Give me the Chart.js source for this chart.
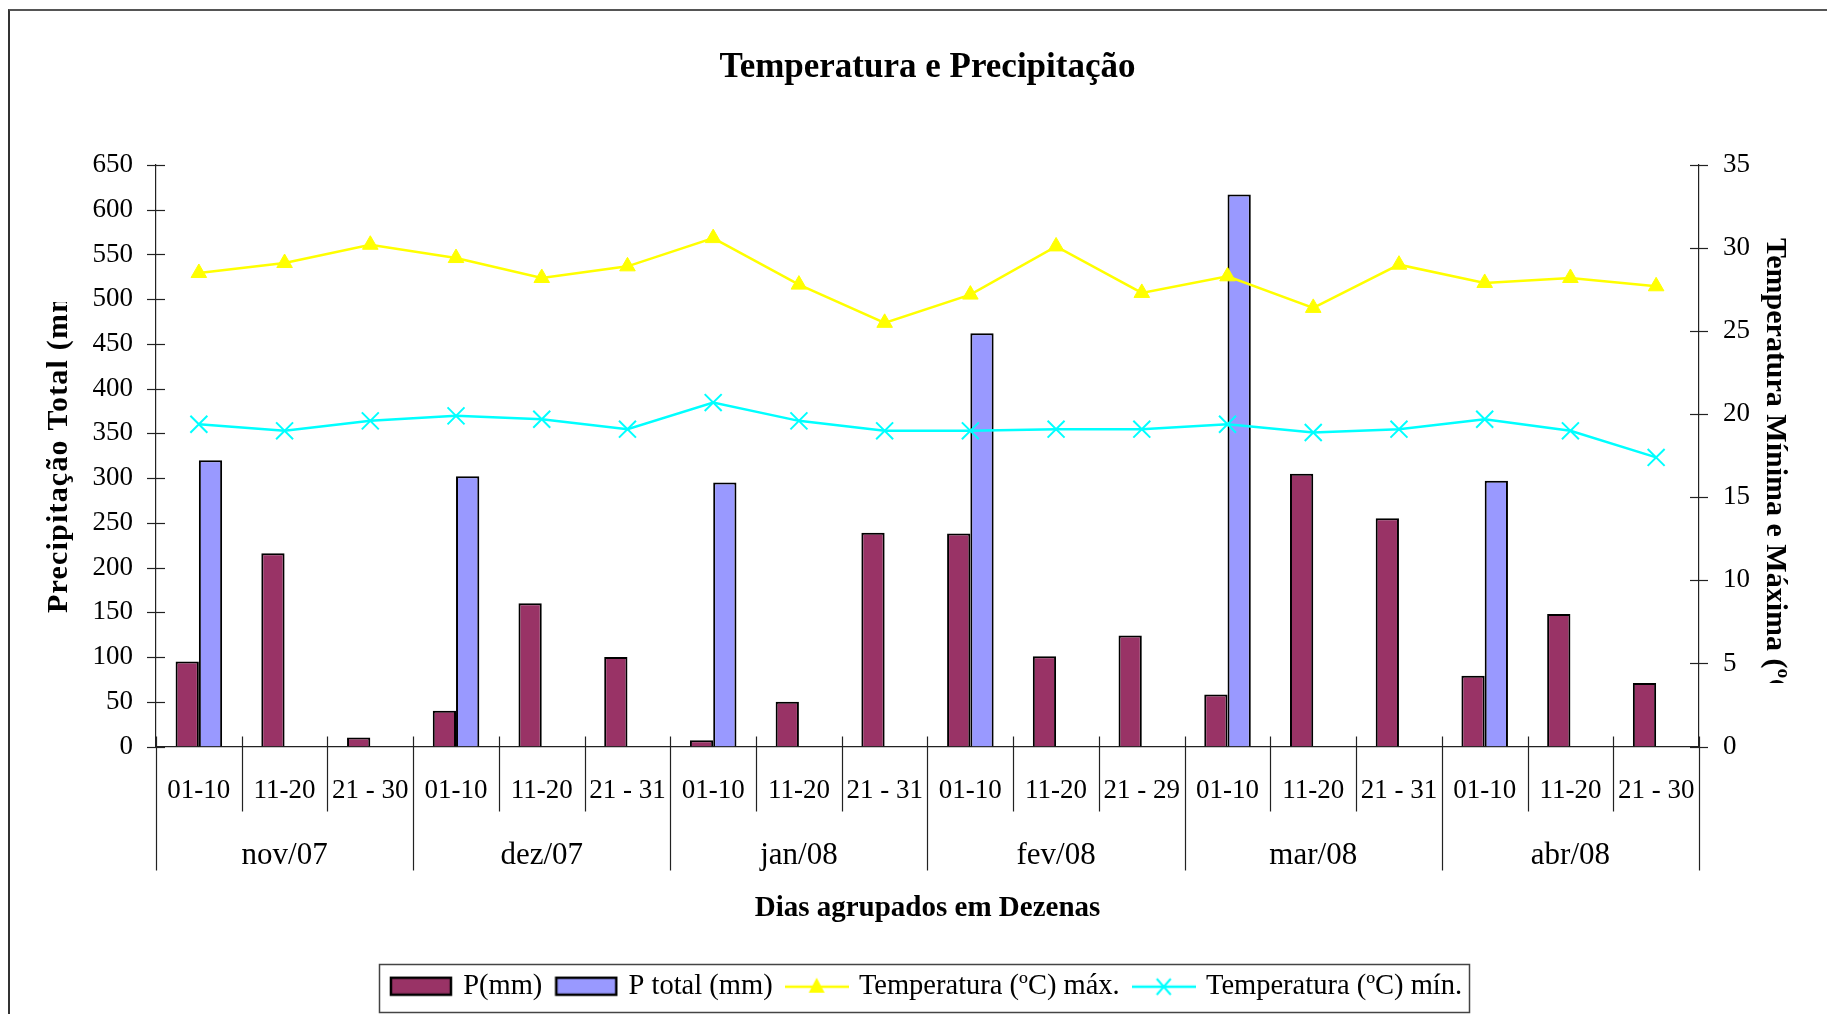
<!DOCTYPE html>
<html>
<head>
<meta charset="utf-8">
<script src="https://cdn.jsdelivr.net/npm/chart.js@4.4.1/dist/chart.umd.min.js"></script>
<style>
  html, body { margin: 0; padding: 0; background: #fff; }
  #wrap { position: relative; width: 1827px; height: 1014px; overflow: hidden; }
  #frame { position: absolute; left: 8px; top: 9px; width: 2000px; height: 1200px; border-left: 2px solid #333; border-top: 2px solid #555; }
  canvas { position: absolute; left: 0; top: 0; }
</style>
</head>
<body>
<div id="wrap">
  <div id="frame"></div>
  <canvas id="chart" width="1827" height="1014"></canvas>
</div>
<script>
// data
const dezenas = ["01-10", "11-20", "21 - 30", "01-10", "11-20", "21 - 31", "01-10", "11-20", "21 - 31",
  "01-10", "11-20", "21 - 29", "01-10", "11-20", "21 - 31", "01-10", "11-20", "21 - 30"]
const meses = ["nov/07", "dez/07", "jan/08", "fev/08", "mar/08", "abr/08"]
const precip = [95, 216, 10, 40, 160, 100, 7, 50, 239, 238, 101, 124, 58, 305, 255, 79, 148, 71]
const precipTotal = [320, null, null, 302, null, null, 295, null, null, 462, null, null, 617, null, null, 297, null, null]
const tempMax = [28.5, 29.1, 30.2, 29.4, 28.2, 28.9, 30.6, 27.8, 25.5, 27.2, 30.1, 27.3, 28.3, 26.4, 29.0, 27.9, 28.2, 27.7]
const tempMin = [19.4, 19.0, 19.6, 19.9, 19.7, 19.1, 20.7, 19.6, 19.0, 19.0, 19.1, 19.1, 19.4, 18.9, 19.1, 19.7, 19.0, 17.4]
const precipTicks = { min: 0, max: 650, step: 50 }
const tempTicks = { min: 0, max: 35, step: 5 }

const serif = "'Liberation Serif', 'Times New Roman', serif"
const fontSize = 27

// legend swatches (drawn a bit wider than the reserved box)
function barSwatch(color) {
  const c = document.createElement("canvas")
  c.width = 64
  c.height = 22
  const g = c.getContext("2d")
  g.fillStyle = color
  g.fillRect(2, 2, 60, 17)
  g.strokeStyle = "#000"
  g.lineWidth = 2.5
  g.strokeRect(2, 2, 60, 17)
  return c
}
function lineSwatch(color, marker) {
  const c = document.createElement("canvas")
  c.width = 64
  c.height = 26
  const g = c.getContext("2d")
  g.strokeStyle = color
  g.fillStyle = color
  g.lineWidth = 2.5
  g.beginPath()
  g.moveTo(0, 13)
  g.lineTo(64, 13)
  g.stroke()
  if (marker === "triangle") {
    g.beginPath()
    g.moveTo(32, 4)
    g.lineTo(40, 19)
    g.lineTo(24, 19)
    g.closePath()
    g.fill()
  } else {
    g.lineWidth = 2
    g.beginPath()
    g.moveTo(25, 5); g.lineTo(39, 21)
    g.moveTo(39, 5); g.lineTo(25, 21)
    g.stroke()
  }
  return c
}
const swatches = [
  barSwatch("#993366"),
  barSwatch("#9999FF"),
  lineSwatch("#FFFF00", "triangle"),
  lineSwatch("#00FFFF", "cross"),
]

// axis decorations: crossing ticks, group separators, month labels, clipped axis titles, legend box
const decor = {
  id: "decor",
  afterDraw(chart) {
    const ctx = chart.ctx
    const area = chart.chartArea
    const x = chart.scales.x
    const y = chart.scales.y
    const y1 = chart.scales.y1
    ctx.save()
    ctx.strokeStyle = "#222"
    ctx.lineWidth = 1.2

    // y ticks, crossing the axis lines
    y.ticks.forEach((t) => {
      const py = Math.round(y.getPixelForValue(t.value)) + 0.5
      ctx.beginPath()
      ctx.moveTo(area.left - 9, py)
      ctx.lineTo(area.left + 9, py)
      ctx.stroke()
    })
    y1.ticks.forEach((t) => {
      const py = Math.round(y1.getPixelForValue(t.value)) + 0.5
      ctx.beginPath()
      ctx.moveTo(area.right - 9, py)
      ctx.lineTo(area.right + 9, py)
      ctx.stroke()
    })

    // separators between dezenas and months
    const half = (x.getPixelForValue(1) - x.getPixelForValue(0)) / 2
    for (let i = 0; i <= dezenas.length; i++) {
      const px = Math.round(x.getPixelForValue(0) - half + i * 2 * half) + 0.5
      const major = i % 3 === 0
      ctx.beginPath()
      ctx.moveTo(px, area.bottom - 10)
      ctx.lineTo(px, major ? area.bottom + 124 : area.bottom + 65)
      ctx.stroke()
    }

    ctx.fillStyle = "#000"
    ctx.font = "31px " + serif
    ctx.textAlign = "center"
    ctx.textBaseline = "middle"
    meses.forEach((m, i) => {
      ctx.fillText(m, x.getPixelForValue(i * 3 + 1), area.bottom + 109)
    })

    // axis titles, cut off like the original
    ctx.font = "bold 30px " + serif
    ctx.textBaseline = "alphabetic"
    ctx.save()
    ctx.beginPath()
    ctx.rect(0, 302, area.left, 700)
    ctx.clip()
    ctx.translate(67, 613)
    ctx.rotate(-Math.PI / 2)
    ctx.textAlign = "left"
    if ("letterSpacing" in ctx) ctx.letterSpacing = "1.2px"
    ctx.fillText("Precipitação Total (mm)", 0, 0)
    ctx.restore()

    ctx.save()
    ctx.beginPath()
    ctx.rect(area.right + 40, 0, 200, 683)
    ctx.clip()
    ctx.translate(1767, 238)
    ctx.rotate(Math.PI / 2)
    ctx.textAlign = "left"
    ctx.fillText("Temperatura Mínima e Máxima (ºC)", 0, 0)
    ctx.restore()

    // legend frame
    const boxes = chart.legend.legendHitBoxes
    if (boxes && boxes.length) {
      let l = Infinity, r = -Infinity, t = Infinity, b = -Infinity
      boxes.forEach((h) => {
        l = Math.min(l, h.left)
        r = Math.max(r, h.left + h.width)
        t = Math.min(t, h.top)
        b = Math.max(b, h.top + h.height)
      })
      ctx.strokeStyle = "#444"
      ctx.lineWidth = 1.5
      ctx.strokeRect(Math.round(l - 14) + 0.5, Math.round(t - 9) + 0.5, Math.round(r - l + 21), Math.round(b - t + 19))
    }
    ctx.restore()
  },
}

Chart.defaults.font.family = serif
Chart.defaults.color = "#000"

new Chart(document.getElementById("chart"), {
  type: "bar",
  data: {
    labels: dezenas,
    datasets: [
      {
        label: "P(mm)",
        data: precip,
        backgroundColor: "#993366",
        borderColor: "#000",
        borderWidth: 2,
        borderSkipped: "bottom",
        yAxisID: "y",
        order: 2,
      },
      {
        label: "P total (mm)",
        data: precipTotal,
        backgroundColor: "#9999FF",
        borderColor: "#000",
        borderWidth: 2,
        borderSkipped: "bottom",
        yAxisID: "y",
        order: 2,
      },
      {
        type: "line",
        label: "Temperatura (ºC) máx.",
        data: tempMax,
        borderColor: "#FFFF00",
        backgroundColor: "#FFFF00",
        borderWidth: 2.5,
        pointStyle: "triangle",
        pointRadius: 9,
        pointBorderWidth: 1,
        tension: 0,
        yAxisID: "y1",
        order: 1,
      },
      {
        type: "line",
        label: "Temperatura (ºC) mín.",
        data: tempMin,
        borderColor: "#00FFFF",
        backgroundColor: "#00FFFF",
        borderWidth: 2.5,
        pointStyle: "crossRot",
        pointRadius: 12,
        pointBorderWidth: 2,
        tension: 0,
        yAxisID: "y1",
        order: 1,
      },
    ],
  },
  options: {
    responsive: false,
    animation: false,
    layout: { padding: { left: 0, right: 0, top: 0, bottom: 3 } },
    datasets: {
      bar: { categoryPercentage: 0.543, barPercentage: 1.0 },
    },
    plugins: {
      title: {
        display: true,
        text: "Temperatura e Precipitação",
        fullSize: false,
        color: "#000",
        font: { size: 35, weight: "bold", family: serif },
        padding: { top: 47, bottom: 76 },
      },
      legend: {
        position: "bottom",
        fullSize: false,
        labels: {
          usePointStyle: true,
          pointStyleWidth: 56,
          padding: 16,
          color: "#000",
          font: { size: 28.5, family: serif },
          sort: (a, b) => a.datasetIndex - b.datasetIndex,
          generateLabels(chart) {
            const items = Chart.defaults.plugins.legend.labels.generateLabels(chart)
            items.forEach((it) => {
              it.pointStyle = swatches[it.datasetIndex]
            })
            return items
          },
        },
      },
      tooltip: { enabled: false },
    },
    scales: {
      x: {
        type: "category",
        grid: { display: false, drawTicks: false },
        border: { display: true, color: "#222", width: 1.2 },
        ticks: { autoSkip: false, maxRotation: 0, padding: 28, font: { size: fontSize } },
        title: {
          display: true,
          text: "Dias agrupados em Dezenas",
          font: { size: 29, weight: "bold", family: serif },
          padding: { top: 0, bottom: 31 },
        },
        afterFit(scale) {
          scale.height = 210
        },
      },
      y: {
        position: "left",
        min: precipTicks.min,
        max: precipTicks.max,
        grid: { display: false, drawTicks: false },
        border: { display: true, color: "#222", width: 1.2 },
        ticks: { stepSize: precipTicks.step, padding: 23, font: { size: fontSize } },
        afterFit(scale) {
          scale.width = 156
        },
      },
      y1: {
        position: "right",
        min: tempTicks.min,
        max: tempTicks.max,
        grid: { display: false, drawTicks: false },
        border: { display: true, color: "#222", width: 1.2 },
        ticks: { stepSize: tempTicks.step, padding: 24, font: { size: fontSize } },
        afterFit(scale) {
          scale.width = 128
        },
      },
    },
  },
  plugins: [decor],
})
</script>
</body>
</html>
